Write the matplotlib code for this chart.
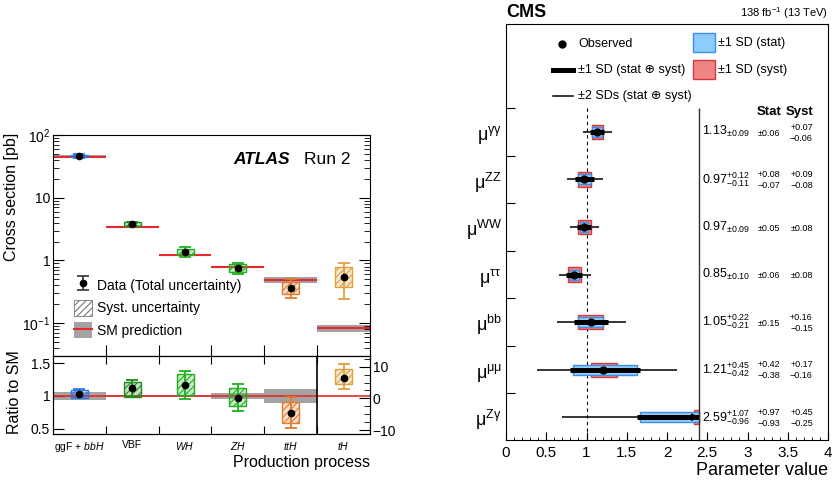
import numpy as np
import matplotlib
matplotlib.use('Agg')
import matplotlib.pyplot as plt
from matplotlib.patches import Rectangle, Patch
from matplotlib.lines import Line2D
from matplotlib.collections import LineCollection
from matplotlib.container import ErrorbarContainer
from matplotlib.legend_handler import HandlerTuple
from matplotlib.ticker import (NullFormatter, NullLocator,
                               LogLocator, MultipleLocator, FuncFormatter)
from matplotlib.colors import to_rgba

plt.rcParams['font.family'] = ['Liberation Sans', 'DejaVu Sans']
plt.rcParams['mathtext.fontset'] = 'custom'
plt.rcParams['mathtext.rm'] = 'Liberation Sans'
plt.rcParams['mathtext.it'] = 'Liberation Sans:italic'
plt.rcParams['mathtext.bf'] = 'Liberation Sans:bold'
plt.rcParams['hatch.linewidth'] = 0.8

# ---------------- ATLAS data ----------------
proc_labels = ['ggF + $\\mathit{bbH}$', 'VBF', '$\\mathit{WH}$', '$\\mathit{ZH}$',
               '$\\mathit{ttH}$', '$\\mathit{tH}$']
proc_colors = ['#2b78e4', '#1e8c1e', '#22b022', '#22b022', '#e07b2f', '#e0a040']
xs_obs = [46.0, 3.80, 1.38, 0.77, 0.36, 0.55]
xs_tot_hi = [49.5, 4.15, 1.61, 0.92, 0.50, 0.92]
xs_tot_lo = [43.0, 3.50, 1.13, 0.61, 0.25, 0.24]
xs_sys_hi = [48.5, 4.05, 1.52, 0.88, 0.45, 0.78]
xs_sys_lo = [43.8, 3.58, 1.21, 0.65, 0.29, 0.38]
xs_sm = [45.0, 3.44, 1.21, 0.79, 0.49, 0.083]
sm_rel_unc = [0.05, 0.02, 0.02, 0.04, 0.10, 0.12]
xs_yticks = [0.1, 1, 10, 100]
xs_yticklabels = ['$10^{-1}$', '1', '10', '$10^{2}$']

ratio_obs = [1.035, 1.117, 1.167, 0.975, 0.747]
ratio_tot_hi = [1.10, 1.25, 1.38, 1.19, 0.99]
ratio_tot_lo = [0.965, 0.98, 0.95, 0.77, 0.51]
ratio_sys_hi = [1.09, 1.21, 1.33, 1.117, 0.91]
ratio_sys_lo = [0.97, 0.98, 1.015, 0.85, 0.586]
ratio_sm_unc = [0.06, 0.02, 0.02, 0.04, 0.10]
ratio_yticks = [0.5, 1, 1.5]

th_obs = 6.5
th_tot = (2.86, 10.85)
th_sys = (4.53, 9.18)
th_ticks = [-10, 0, 10]

# ---------------- CMS data ----------------
cms_labels = ['μ$^{\\mathregular{γγ}}$', 'μ$^{\\mathregular{ZZ}}$', 'μ$^{\\mathregular{WW}}$',
              'μ$^{\\mathregular{ττ}}$', 'μ$^{\\mathregular{bb}}$', 'μ$^{\\mathregular{μμ}}$',
              'μ$^{\\mathregular{Zγ}}$']
mu = [1.13, 0.97, 0.97, 0.85, 1.05, 1.21, 2.59]
tot_up = [0.09, 0.12, 0.09, 0.10, 0.22, 0.45, 1.07]
tot_dn = [0.09, 0.11, 0.09, 0.10, 0.21, 0.42, 0.96]
stat_up = [0.06, 0.08, 0.05, 0.06, 0.15, 0.42, 0.97]
stat_dn = [0.06, 0.07, 0.05, 0.06, 0.15, 0.38, 0.93]
syst_up = [0.07, 0.09, 0.08, 0.08, 0.16, 0.17, 0.45]
syst_dn = [0.06, 0.08, 0.08, 0.08, 0.15, 0.16, 0.25]
tot2_lo = [0.96, 0.76, 0.80, 0.66, 0.63, 0.38, 0.69]
tot2_hi = [1.32, 1.21, 1.16, 1.06, 1.49, 2.13, 4.70]
xclip = 2.4

W, H = 833, 480
fig = plt.figure(figsize=(W / 100, H / 100), dpi=100)


def fa(x0, y0, x1, y1):
    return [x0 / W, 1 - y1 / H, (x1 - x0) / W, (y1 - y0) / H]


axu = fig.add_axes(fa(53, 135, 370, 356))
axl = fig.add_axes(fa(53, 356, 370, 434))
axc = fig.add_axes(fa(506, 24, 828, 440))

RED = '#e8282a'
GREY = '#a3a3a3'
BW = 0.32
CAP = 4

# ---------------- upper ATLAS panel ----------------
xpos = np.arange(len(proc_labels))
for i in xpos:
    c = proc_colors[i]
    u = sm_rel_unc[i]
    axu.fill_between([i - 0.5, i + 0.5], xs_sm[i] * (1 - u), xs_sm[i] * (1 + u),
                     color=GREY, lw=0, zorder=1)
    axu.hlines(xs_sm[i], i - 0.5, i + 0.5, color=RED, lw=1.5, zorder=2)
    axu.add_patch(Rectangle((i - BW / 2, xs_sys_lo[i]), BW, xs_sys_hi[i] - xs_sys_lo[i],
                            facecolor=to_rgba(c, 0.25), edgecolor=c, hatch='/////',
                            lw=1.0, zorder=3))
    axu.errorbar(i, xs_obs[i], yerr=[[xs_obs[i] - xs_tot_lo[i]], [xs_tot_hi[i] - xs_obs[i]]],
                 fmt='o', color='black', ecolor=c, elinewidth=1.3, capsize=CAP,
                 capthick=1.3, ms=4.5, zorder=4)
axu.set_yscale('log')
axu.set_ylim(0.03, 100)
axu.set_xlim(-0.5, 5.5)
axu.set_yticks(xs_yticks)
axu.set_yticklabels(xs_yticklabels)
axu.yaxis.set_minor_locator(LogLocator(subs=np.arange(2, 10)))
axu.yaxis.set_minor_formatter(NullFormatter())
axu.tick_params(axis='y', which='both', direction='in', left=True, right=True,
                labelsize=10, pad=2)
axu.tick_params(axis='y', which='major', length=8)
axu.tick_params(axis='y', which='minor', length=4)
axu.set_xticks(xpos[:-1] + 0.5)
axu.xaxis.set_minor_locator(NullLocator())
axu.tick_params(axis='x', direction='in', length=8, labelbottom=False, top=False)

axu.text(0.748, 0.89, 'ATLAS', transform=axu.transAxes, ha='right', va='center',
         fontsize=12.5, fontweight='bold', fontstyle='italic')
axu.text(0.937, 0.89, 'Run 2', transform=axu.transAxes, ha='right', va='center',
         fontsize=12.5)

# legend
dline = Line2D([], [], marker='o', color='black', ms=4.5, ls='none')
capl = Line2D([], [], marker='_', color='#333333', ms=8, mew=1.2, ls='none')
barc = LineCollection([], colors='#333333', linewidths=1.2)
h_data = ErrorbarContainer((dline, (capl, capl), (barc,)), has_xerr=False, has_yerr=True)
h_sys = Patch(facecolor='white', edgecolor='#777777', hatch='/////', lw=0.6)
h_sm = (Patch(facecolor=GREY, edgecolor='none'), Line2D([], [], color=RED, lw=1.5))
axu.legend([h_data, h_sys, h_sm], ['Data (Total uncertainty)', 'Syst. uncertainty',
                                   'SM prediction'],
           handler_map={tuple: HandlerTuple(ndivide=1)},
           loc='lower left', bbox_to_anchor=(0.065, 0.08), frameon=False, fontsize=10,
           handlelength=1.3, handleheight=1.4, labelspacing=0.48, handletextpad=0.4,
           borderaxespad=0, borderpad=0)

fig.text(12 / W, 1 - 197 / H, 'Cross section [pb]', rotation=90, ha='center',
         va='center', fontsize=11.5)

# ---------------- lower ATLAS ratio panel ----------------
axl.set_xlim(-0.5, 5.5)
axl.set_ylim(0.42, 1.61)
for i in range(len(ratio_obs)):
    c = proc_colors[i]
    u = ratio_sm_unc[i]
    axl.fill_between([i - 0.5, i + 0.5], 1 - u, 1 + u, color=GREY, lw=0, zorder=1)
    axl.add_patch(Rectangle((i - BW / 2, ratio_sys_lo[i]), BW,
                            ratio_sys_hi[i] - ratio_sys_lo[i],
                            facecolor=to_rgba(c, 0.25), edgecolor=c, hatch='/////',
                            lw=1.0, zorder=3))
    axl.errorbar(i, ratio_obs[i], yerr=[[ratio_obs[i] - ratio_tot_lo[i]],
                                        [ratio_tot_hi[i] - ratio_obs[i]]],
                 fmt='o', color='black', ecolor=c, elinewidth=1.3, capsize=CAP,
                 capthick=1.3, ms=4.5, zorder=4)
axl.axhline(1, color=RED, lw=1.2, zorder=2)
axl.axvline(4.5, color='black', lw=1.2, zorder=5)
axl.set_xticks(xpos[:-1] + 0.5)
axl.set_xticklabels([])
axl.set_xticks(xpos, minor=True)
axl.set_xticklabels(proc_labels, minor=True)
axl.tick_params(axis='x', which='major', direction='in', length=6, top=True, bottom=True)
axl.tick_params(axis='x', which='minor', length=0, labelsize=7.5, pad=4)
axl.set_yticks(ratio_yticks)
axl.set_yticklabels([f'{v:g}' for v in ratio_yticks])
axl.tick_params(axis='y', direction='in', length=8, right=False, labelsize=10, pad=2)
axl.set_xlabel('Production process', fontsize=11.5, loc='right', labelpad=1)

ax2 = axl.twinx()
ax2.set_ylim(-11.26, 13.4)
ct = proc_colors[5]
ax2.add_patch(Rectangle((5 - BW / 2, th_sys[0]), BW, th_sys[1] - th_sys[0],
                        facecolor=to_rgba(ct, 0.25), edgecolor=ct, hatch='/////',
                        lw=1.0, zorder=3))
ax2.errorbar(5, th_obs, yerr=[[th_obs - th_tot[0]], [th_tot[1] - th_obs]], fmt='o',
             color='black', ecolor=ct, elinewidth=1.3, capsize=CAP, capthick=1.3,
             ms=4.5, zorder=4)
ax2.set_xlim(-0.5, 5.5)
ax2.set_yticks(th_ticks)
ax2.yaxis.set_minor_locator(MultipleLocator(2.5))
ax2.tick_params(axis='y', which='both', direction='in', labelsize=10, pad=2)
ax2.tick_params(axis='y', which='major', length=8)
ax2.tick_params(axis='y', which='minor', length=4)

fig.text(15 / W, 1 - 392 / H, 'Ratio to SM', rotation=90, ha='center', va='center',
         fontsize=11.5)

# ---------------- CMS panel ----------------
BLUE_F, BLUE_E = '#8dcdfb', '#3d8ee8'
RED_F, RED_E = '#f08585', '#d9383a'
HR, HB = 0.30, 0.21
rows = np.arange(len(mu))
axc.set_xlim(0, 4)
axc.set_ylim(6.48, -2.27)
axc.vlines(1, -0.5, 6.48, colors='black', linestyles=(0, (3, 3)), lw=0.8, zorder=1)
axc.vlines(xclip, -0.5, 6.48, colors='#333333', lw=1.0, zorder=6)
for i in rows:
    m = mu[i]
    axc.hlines(i, tot2_lo[i], min(tot2_hi[i], xclip), colors='black', lw=1.1, zorder=2)
    x0, x1 = m - syst_dn[i], min(m + syst_up[i], xclip)
    axc.add_patch(Rectangle((x0, i - HR / 2), x1 - x0, HR, facecolor=RED_F,
                            edgecolor=RED_E, lw=1.0, zorder=3))
    x0, x1 = m - stat_dn[i], min(m + stat_up[i], xclip)
    axc.add_patch(Rectangle((x0, i - HB / 2), x1 - x0, HB, facecolor=BLUE_F,
                            edgecolor=BLUE_E, lw=1.0, zorder=4))
    axc.hlines(i, m - tot_dn[i], min(m + tot_up[i], xclip), colors='black', lw=3.6,
               zorder=5)
    if m < xclip:
        axc.plot(m, i, 'o', color='black', ms=5, zorder=6)
    if m + tot_up[i] > xclip:
        axc.annotate('', xy=(xclip, i), xytext=(xclip - 0.12, i),
                     arrowprops=dict(arrowstyle='->', lw=1.3, color='black',
                                     mutation_scale=10, shrinkA=0, shrinkB=0),
                     zorder=7)
    # value columns
    if tot_up[i] == tot_dn[i]:
        s = r'$\mathregular{' + f'{m:.2f}' + r'_{\pm' + f'{tot_up[i]:.2f}' + '}}$'
    else:
        s = (r'$\mathregular{' + f'{m:.2f}' + '^{+' + f'{tot_up[i]:.2f}' + '}_{-'
             + f'{tot_dn[i]:.2f}' + '}}$')
    axc.text(2.44, i, s, ha='left', va='center', fontsize=9)
    for xc, up, dn in ((3.27, stat_up[i], stat_dn[i]), (3.67, syst_up[i], syst_dn[i])):
        if up == dn:
            axc.text(xc, i + 0.03, f'±{up:.2f}', ha='center', va='center', fontsize=6.5)
        else:
            axc.text(xc, i - 0.10, f'+{up:.2f}', ha='center', va='center', fontsize=6.5)
            axc.text(xc, i + 0.13, f'\u2212{dn:.2f}', ha='center', va='center',
                     fontsize=6.5)
axc.text(3.27, -0.42, 'Stat', ha='center', va='center', fontsize=9.5, fontweight='bold')
axc.text(3.65, -0.42, 'Syst', ha='center', va='center', fontsize=9.5, fontweight='bold')

axc.xaxis.set_major_locator(MultipleLocator(0.5))
axc.xaxis.set_minor_locator(MultipleLocator(0.1))
axc.xaxis.set_major_formatter(FuncFormatter(lambda v, p: f'{v:g}'))
axc.tick_params(axis='x', which='both', direction='in', top=False, labelsize=11, pad=4)
axc.tick_params(axis='x', which='major', length=6)
axc.tick_params(axis='x', which='minor', length=2.5)
axc.set_yticks(np.concatenate([[-0.5], rows[:-1] + 0.5]))
axc.set_yticklabels([])
axc.set_yticks(rows, minor=True)
axc.set_yticklabels(cms_labels, minor=True)
axc.tick_params(axis='y', which='major', direction='in', length=6.5, right=False)
axc.tick_params(axis='y', which='minor', length=0, labelsize=13, pad=3)
axc.set_xlabel('Parameter value', fontsize=13, loc='right', labelpad=2)

axc.text(0, 1.008, 'CMS', transform=axc.transAxes, ha='left', va='bottom',
         fontsize=13, fontweight='bold')
axc.text(1, 1.008, '138 fb$^{-1}$ (13 TeV)', transform=axc.transAxes, ha='right',
         va='bottom', fontsize=8)

# CMS legend
T = axc.transAxes
axc.plot([0.174], [0.952], 'o', color='black', ms=5, transform=T)
axc.text(0.224, 0.952, 'Observed', transform=T, va='center', fontsize=9)
axc.plot([0.146, 0.208], [0.889, 0.889], color='black', lw=3.6, transform=T)
axc.text(0.224, 0.889, '±1 SD (stat ⊕ syst)', transform=T, va='center', fontsize=9)
axc.plot([0.146, 0.208], [0.827, 0.827], color='black', lw=1.1, transform=T)
axc.text(0.224, 0.827, '±2 SDs (stat ⊕ syst)', transform=T, va='center', fontsize=9)
axc.add_patch(Rectangle((0.581, 0.933), 0.068, 0.045, transform=T, facecolor=BLUE_F,
                        edgecolor=BLUE_E, lw=1.0))
axc.text(0.658, 0.955, '±1 SD (stat)', transform=T, va='center', fontsize=9)
axc.add_patch(Rectangle((0.581, 0.868), 0.068, 0.045, transform=T, facecolor=RED_F,
                        edgecolor=RED_E, lw=1.0))
axc.text(0.658, 0.889, '±1 SD (syst)', transform=T, va='center', fontsize=9)

fig.savefig('out.png', dpi=100)
